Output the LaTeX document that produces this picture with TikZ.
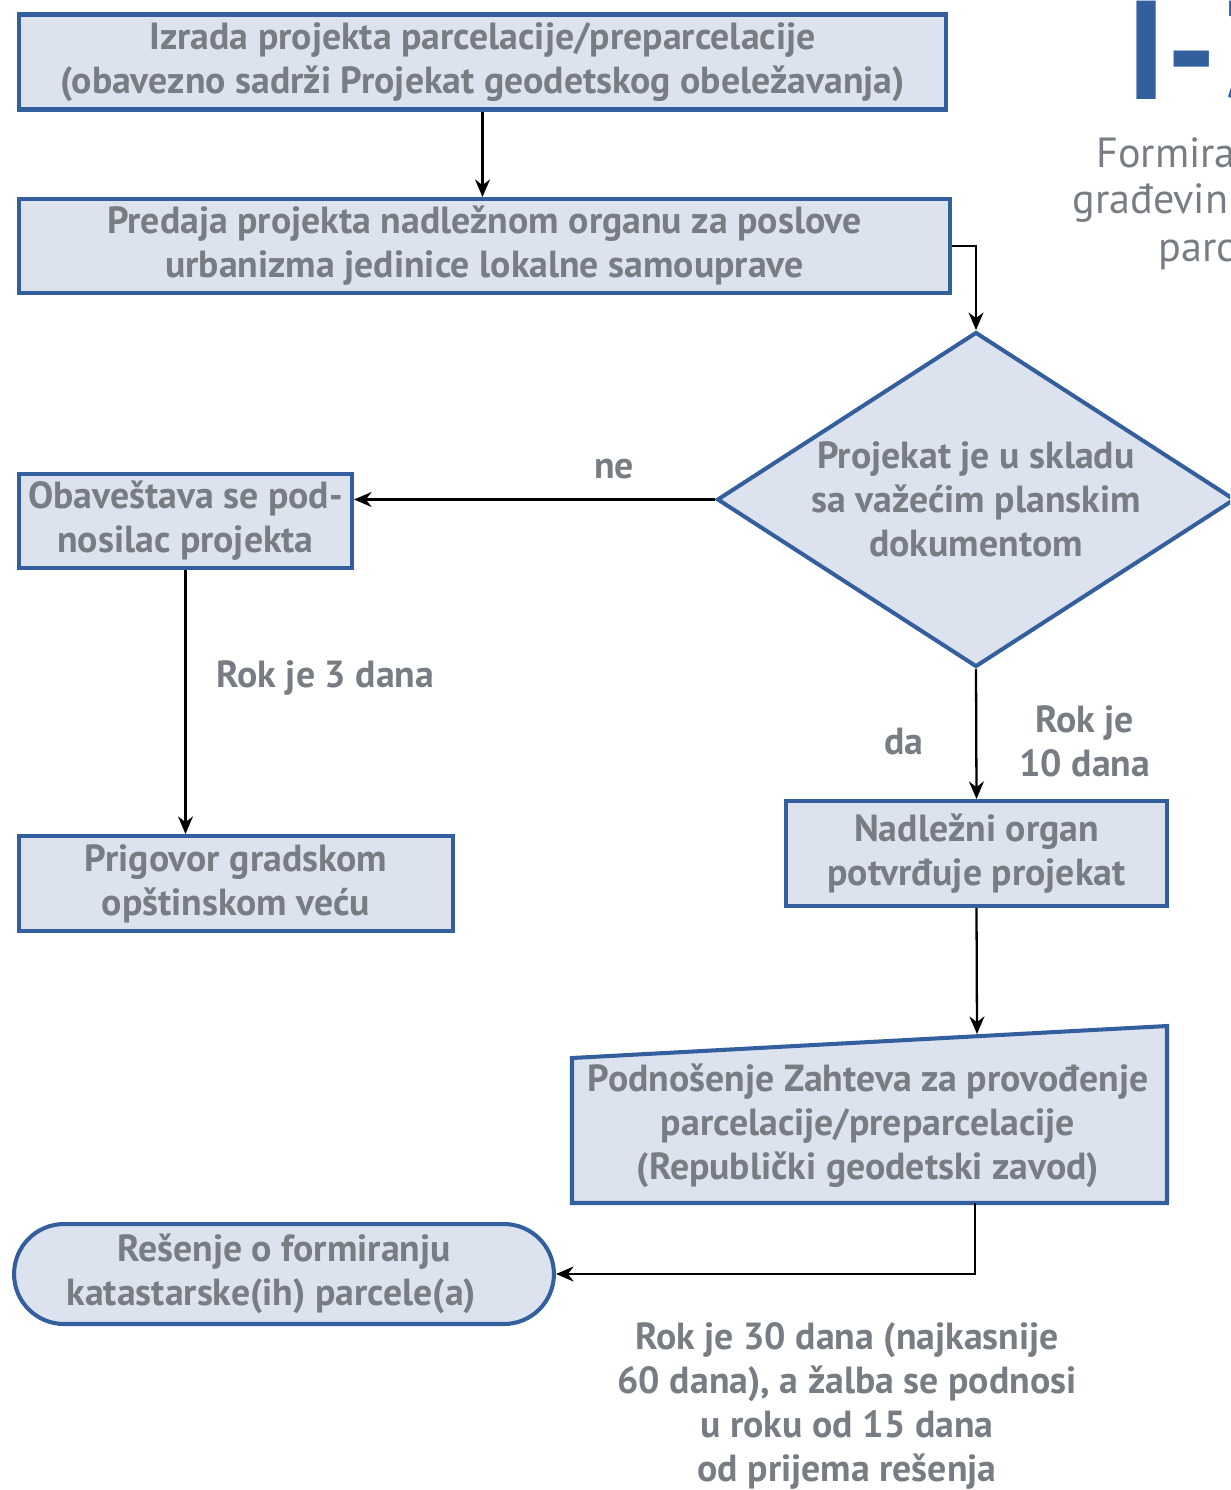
\documentclass[tikz,border=0pt]{standalone}
\usepackage{fontspec}
\setmainfont{PT Sans}
\usetikzlibrary{shapes.geometric,arrows.meta}
\definecolor{okvir}{RGB}{52,95,158}
\definecolor{ispuna}{RGB}{220,226,238}
\definecolor{tekst}{RGB}{120,125,132}
\tikzset{
	korak/.style={draw=okvir, line width=2.3pt, fill=ispuna, text=tekst, font=\fontsize{21.5}{25}\selectfont\bfseries, align=center, inner sep=0pt},
	veza/.style={draw=black, line width=1.3pt, -{Stealth[length=10pt,width=8.5pt]}},
	oznaka/.style={text=tekst, font=\fontsize{21.5}{25}\selectfont\bfseries, align=center, inner sep=0pt},
	naslov/.style={text=tekst, font=\fontsize{24}{28}\selectfont, anchor=west, inner sep=0pt}
}

\begin{document}
\begin{tikzpicture}[x=0.02cm, y=-0.02cm]
	\clip (0,0) rectangle (1230,1490);

	\node[text=okvir, font=\fontsize{80}{80}\selectfont\bfseries, anchor=base west, inner sep=0pt] (oznakaI) at (1126,100) {I-3};
	\node[naslov] (naslov1) at (1096,153) {Formira};
	\node[naslov] (naslov2) at (1072,203) {građevin};
	\node[naslov] (naslov3) at (1158,255) {parc};

	\node[korak, minimum width=18.54cm, minimum height=1.9cm] (izrada) at (482.5,62) {Izrada projekta parcelacije/preparcelacije\\(obavezno sadrži Projekat geodetskog obeležavanja)};
	\node[korak, minimum width=18.62cm, minimum height=1.88cm] (predaja) at (484.5,246) {Predaja projekta nadležnom organu za poslove\\urbanizma jedinice lokalne samouprave};
	\node[korak, shape=diamond, aspect=1.55, minimum width=10.36cm, minimum height=6.7cm] (uskladu) at (976,499.5) {Projekat je u skladu\\sa važećim planskim\\dokumentom};
	\node[korak, minimum width=6.66cm, minimum height=1.88cm] (obavestava) at (185.5,521) {Obaveštava se pod-\\nosilac projekta};
	\node[korak, minimum width=8.68cm, minimum height=1.9cm] (prigovor) at (236,883.5) {Prigovor gradskom\\opštinskom veću};
	\node[korak, minimum width=7.62cm, minimum height=2.1cm] (potvrda) at (976.5,853.5) {Nadležni organ\\potvrđuje projekat};

	\filldraw[draw=okvir, line width=2.3pt, fill=ispuna] (572,1058) -- (1167,1026) -- (1167,1203) -- (572,1203) -- cycle;
	\node[oznaka] (zahtev) at (868,1126) {Podnošenje Zahteva za provođenje\\parcelacije/preparcelacije\\(Republički geodetski zavod)};
	\coordinate (zahtevgore) at (977,1034);
	\coordinate (zahtevdole) at (975,1203);

	\node[korak, rounded corners=1cm, minimum width=10.8cm, minimum height=2cm] (resenje) at (284,1274) {Rešenje o formiranju\\katastarske(ih) parcele(a)\hspace*{0.5cm}};
	\node[oznaka] (rokzalba) at (847,1406) {Rok je 30 dana (najkasnije\\60 dana), a žalba se podnosi\\u roku od 15 dana\\od prijema rešenja};

	\draw[veza] (izrada.south) -- (izrada.south |- predaja.north);
	\draw[veza] (predaja.east) -| (uskladu.north);
	\draw[veza] (uskladu.west) -- (uskladu.west -| obavestava.east) node[oznaka, pos=0.28, yshift=0.6cm] {ne};
	\draw[veza] (obavestava.south) -- (obavestava.south |- prigovor.north) node[oznaka, pos=0.41, right=0.6cm] {Rok je 3 dana};
	\draw[veza] (uskladu.south) -- (potvrda.north) node[oznaka, pos=0.56, left=1.04cm] {da} node[oznaka, pos=0.56, right=0.84cm] {Rok je\\10 dana};
	\draw[veza] (potvrda.south) -- (zahtevgore);
	\draw[veza] (zahtevdole) |- (resenje.east);
\end{tikzpicture}
\end{document}
